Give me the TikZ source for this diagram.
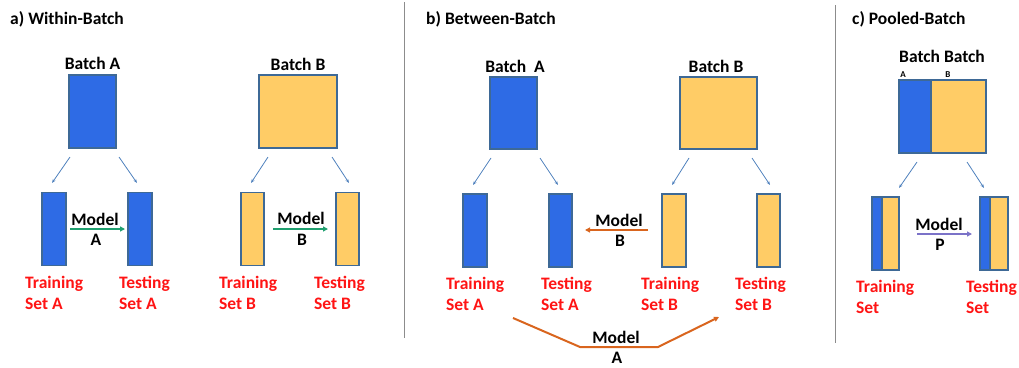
\documentclass[tikz,border=0pt]{standalone}
\usepackage{fontspec}
\setmainfont{Carlito}
\usetikzlibrary{arrows.meta}
\definecolor{bfill}{RGB}{46,107,229}
\definecolor{yfill}{RGB}{255,204,102}
\definecolor{bord}{RGB}{62,105,150}
\definecolor{thinarr}{RGB}{79,129,189}
\definecolor{garr}{RGB}{32,160,112}
\definecolor{oarr}{RGB}{217,101,30}
\definecolor{parr}{RGB}{123,114,200}
\definecolor{lred}{RGB}{255,20,20}
\definecolor{divg}{RGB}{140,140,140}
\begin{document}
\begin{tikzpicture}[x=1pt,y=-1pt,
  txt/.style={font=\fontsize{17.5}{21}\selectfont\bfseries, inner sep=0pt},
  ttl/.style={font=\fontsize{17.5}{21}\selectfont\bfseries, inner sep=0pt, anchor=west},
  lbl/.style={font=\fontsize{17.5}{21}\selectfont\bfseries, text=lred, inner sep=0pt, anchor=west, align=left},
  small/.style={font=\fontsize{9}{10}\selectfont\bfseries, inner sep=0pt},
  bbox/.style={draw=bord, line width=1.3pt, fill=bfill, inner sep=0pt, minimum height=73pt},
  ybox/.style={draw=bord, line width=1.3pt, fill=yfill, inner sep=0pt, minimum height=73pt},
  splitarr/.style={draw=thinarr, line width=0.8pt, -{Stealth[length=4pt,width=3pt]}},
  modarr/.style={line width=2pt, -{Triangle[length=5pt,width=5pt]}},
  divline/.style={draw=divg, line width=1pt}]
\useasboundingbox (0,0) rectangle (1019,367);
% dividers
\coordinate (d1t) at (404,2); \coordinate (d1b) at (404,338);
\coordinate (d2t) at (835,5); \coordinate (d2b) at (835,343);
\draw[divline] (d1t) -- (d1b);
\draw[divline] (d2t) -- (d2b);
% titles
\node[ttl] (ta) at (10,19) {a) Within-Batch};
\node[ttl] (tb) at (426,19) {b) Between-Batch};
\node[ttl] (tc) at (852,19) {c) Pooled-Batch};
% ---------- panel a ----------
\node[txt] (aBAt) at (92.5,63) {Batch A};
\node[bbox, minimum width=47pt] (aBA) at (92.5,111.5) {};
\node[txt] (aBBt) at (298,64) {Batch B};
\node[ybox, minimum width=78pt] (aBB) at (298,111.5) {};
\node[bbox, minimum width=24pt] (aTrA) at (54,229) {};
\node[bbox, minimum width=24pt] (aTeA) at (140,229) {};
\node[ybox, minimum width=23pt] (aTrB) at (252.5,229) {};
\node[ybox, minimum width=23pt] (aTeB) at (347.5,229) {};
\coordinate (a1s) at (70,157); \coordinate (a1e) at (52,183);
\coordinate (a2s) at (119,157); \coordinate (a2e) at (137,183);
\coordinate (a3s) at (268,157); \coordinate (a3e) at (251,183);
\coordinate (a4s) at (332,157); \coordinate (a4e) at (349,183);
\draw[splitarr] (a1s) -- (a1e);
\draw[splitarr] (a2s) -- (a2e);
\draw[splitarr] (a3s) -- (a3e);
\draw[splitarr] (a4s) -- (a4e);
\coordinate (amAs) at (70,229); \coordinate (amAe) at (125,229);
\draw[modarr, color=garr] (amAs) -- (amAe);
\node[txt] (amAt) at (95,219) {Model};
\node[txt] (amAl) at (96,240) {A};
\coordinate (amBs) at (273,229); \coordinate (amBe) at (328,229);
\draw[modarr, color=garr] (amBs) -- (amBe);
\node[txt] (amBt) at (301,218) {Model};
\node[txt] (amBl) at (302,240) {B};
\node[lbl] (aLtrA) at (25,293) {Training\\Set A};
\node[lbl] (aLteA) at (119,293) {Testing\\Set A};
\node[lbl] (aLtrB) at (219,293) {Training\\Set B};
\node[lbl] (aLteB) at (314,293) {Testing\\Set B};
% ---------- panel b ----------
\node[txt] (bBAt) at (515,66) {Batch\ \ A};
\node[bbox, minimum width=47pt, minimum height=72pt] (bBA) at (513.5,113) {};
\node[txt] (bBBt) at (716,66) {Batch B};
\node[ybox, minimum width=77pt, minimum height=72pt] (bBB) at (718.5,113) {};
\node[bbox, minimum width=24pt] (bTrA) at (475,230.5) {};
\node[bbox, minimum width=23pt] (bTeA) at (560.5,230.5) {};
\node[ybox, minimum width=24pt] (bTrB) at (674,230.5) {};
\node[ybox, minimum width=23pt] (bTeB) at (768.5,230.5) {};
\coordinate (b1s) at (491,158); \coordinate (b1e) at (473,185);
\coordinate (b2s) at (540,158); \coordinate (b2e) at (558,185);
\coordinate (b3s) at (689,158); \coordinate (b3e) at (672,185);
\coordinate (b4s) at (752,158); \coordinate (b4e) at (770,185);
\draw[splitarr] (b1s) -- (b1e);
\draw[splitarr] (b2s) -- (b2e);
\draw[splitarr] (b3s) -- (b3e);
\draw[splitarr] (b4s) -- (b4e);
\coordinate (bmBs) at (648,230); \coordinate (bmBe) at (585,230);
\draw[modarr, color=oarr] (bmBs) -- (bmBe);
\node[txt] (bmBt) at (619,220) {Model};
\node[txt] (bmBl) at (620,241) {B};
\coordinate (bmA1) at (513,318); \coordinate (bmA2) at (580,347);
\coordinate (bmA3) at (658,347); \coordinate (bmA4) at (719,317);
\draw[modarr, color=oarr, line join=round] (bmA1) -- (bmA2) -- (bmA3) -- (bmA4);
\node[txt] (bmAt) at (616,337) {Model};
\node[txt] (bmAl) at (617,357.5) {A};
\node[lbl] (bLtrA) at (446,294) {Training\\Set A};
\node[lbl] (bLteA) at (541,294) {Testing\\Set A};
\node[lbl] (bLtrB) at (641,294) {Training\\Set B};
\node[lbl] (bLteB) at (735,294) {Testing\\Set B};
% ---------- panel c ----------
\node[txt] (cBt) at (942,56) {Batch Batch};
\node[small] (cAs) at (903,75) {A};
\node[small] (cBs) at (948,75) {B};
\node[draw=bord, line width=1.3pt, fill=yfill, minimum width=87pt, minimum height=73pt, inner sep=0pt] (cP) at (942.5,116.5) {};
\node[draw=bord, line width=1.3pt, fill=bfill, minimum width=32pt, minimum height=73pt, inner sep=0pt, anchor=west] (cPb) at (cP.west) {};
\node[ybox, minimum width=27pt] (cTr) at (885.5,233.5) {};
\node[bbox, minimum width=10pt, anchor=west] (cTrb) at (cTr.west) {};
\node[ybox, minimum width=28pt] (cTe) at (994,233.5) {};
\node[bbox, minimum width=10pt, anchor=west] (cTeb) at (cTe.west) {};
\coordinate (c1s) at (917,162); \coordinate (c1e) at (899,188);
\coordinate (c2s) at (967,162); \coordinate (c2e) at (984,188);
\draw[splitarr] (c1s) -- (c1e);
\draw[splitarr] (c2s) -- (c2e);
\coordinate (cmPs) at (917,234); \coordinate (cmPe) at (972,234);
\draw[modarr, color=parr] (cmPs) -- (cmPe);
\node[txt] (cmPt) at (939,224) {Model};
\node[txt] (cmPl) at (940,245) {P};
\node[lbl] (cLtr) at (856,297) {Training\\Set};
\node[lbl] (cLte) at (966,297) {Testing\\Set};
\end{tikzpicture}
\end{document}
